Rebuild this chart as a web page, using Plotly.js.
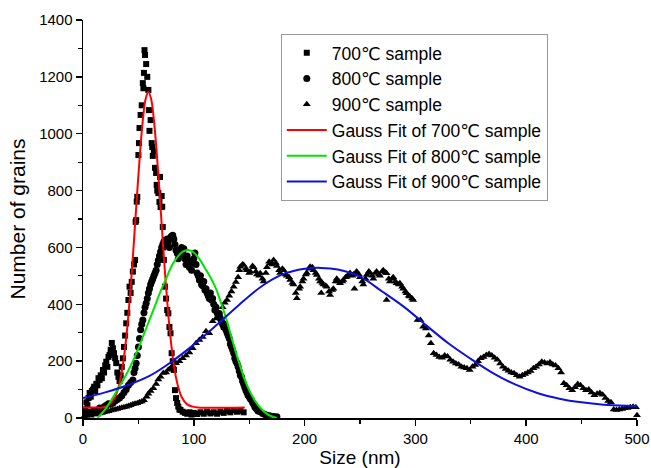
<!DOCTYPE html>
<html>
<head>
<meta charset="utf-8">
<script src="https://cdn.plot.ly/plotly-3.0.1.min.js"></script>
<style>html,body{margin:0;padding:0;background:#fff}#chart{width:651px;height:468px}</style>
</head>
<body>
<div id="chart"></div>
<script>
// 700 C sample (squares)
const x700 = [1,2,3,4,5,6,7,8,9,10,11,12,13,14,15,16,17,18,19,20,21,22,23,24,25,26,27,28,29,30,31,32,33,34,35,36,37,38,39,40,41,42,43,44,45,46,47,47.5,48,48.5,49,50,50.5,51,52,53,54,54.5,55,55.5,56,57,58,59,59.5,60,61,62,62.5,63,64,65,66,66.5,67,68,69,69.5,70,71,71.5,72,72.5,73,74,75,76,77,78,79,80,81,82,83,84,85,86,87,88,90,92,94,96,98,100,103,106,109,112,115,118,121,124,127,130,133,136,139,142,145];
const y700 = [15,30,55,45,70,88,75,95,100,110,95,120,115,140,134,150,140,169,160,185,198,180,215,222,240,264,245,228,210,193,160,145,130,150,180,210,250,290,333,370,415,462,440,479,515,540,556,690,696,761,778,925,967,1020,1066,1100,1178,1160,1214,1294,1277,1245,1200,1154,1083,1010,1048,967,953,922,940,880,862,820,800,791,760,848,742,781,743,672,600,556,462,420,380,368,320,298,228,200,169,98,70,53,40,30,28,22,18,15,20,12,18,14,20,15,22,16,20,15,22,18,25,20,28,22,25,20];

// 800 C sample (circles)
const x800 = [1,3,5,7,9,11,13,15,17,19,21,23,25,27,29,31,33,35,37,39,41,43,45,46,47,48,49,50,51,52,53,54,55,56,57,58,59,60,61,62,63,64,65,66,67,68,69,70,71,72,73,74,75,76,77,78,79,80,81,82,83,84,85,86,87,88,89,90,91,92,93,94,95,96,97,98,99,100,101,102,103,104,105,106,107,108,109,110,111,112,113,114,115,116,117,118,119,120,121,122,123,124,125,126,127,128,129,130,131,132,133,134,135,136,137,138,139,140,141,142,143,144,145,146,147,148,149,150,151,152,153,154,155,156,157,158,160,162,164,166,168,170,172,175];
const y800 = [10,15,20,18,25,22,28,35,30,40,45,50,48,53,60,65,70,78,90,100,115,125,134,160,175,193,220,250,280,310,330,345,370,390,404,420,440,455,470,480,490,500,510,520,540,555,570,585,600,610,620,625,615,630,620,600,635,640,643,630,610,590,580,560,575,590,600,580,595,560,540,570,555,530,545,520,545,560,580,540,510,500,485,500,470,465,480,450,455,440,430,420,440,415,420,400,380,390,370,360,368,350,340,330,320,330,310,300,290,280,260,251,240,228,210,200,193,180,165,150,145,130,120,108,98,90,80,75,68,63,55,48,40,35,30,25,22,16,12,10,8,6,5,4];

// 900 C sample (triangles)
const x900 = [1,3,5,7,9,11,13,15,17,19,21,23,25,27,29,31,33,35,37,39,41,43,45,47,49,51,53,55,57.5,59,61,63.5,66,68,70,72.5,75,77,79,81,84,87,90,93,96,99,102,105,108,111,114,117,120,123,126,128,
130,132,134,136,138,140,141,142,144,145,147,148,150,151,153,154,156,157,159,160,162,163,165,166,168,169,171,172,174,175,177,178,180,181,183,184,186,187,189,190,192,193,195,196,198,199,201,202,204,205,207,208,210,211,213,214,215,216,217,219,220,222,223,225,226,228,229,231,232,234,235,237,238,240,241,243,244,245,246,247,249,250,252,253,255,256,258,259,261,262,264,265,267,268,270,271,273,274,274,276,277,279,280,282,283,285,286,288,289,291,292,294,295,297,298,
302,304.5,307,309.5,312,314,316.5,319,321.5,324,326.5,329,331.5,334,336.5,339,341.5,344,346.5,349,351.5,354,356.5,359,361.5,364,366.5,369,371.5,374,376.5,379,381.5,384,386.5,389,391.5,394,396.5,399,401.5,404,406.5,409,411.5,414,416.5,419,421.5,424,426.5,429,431.5,434,436.5,439,441.5,444,446.5,449,451.5,454,456.5,459,461.5,464,466.5,469,471.5,474,476.5,479,481.5,484,486.5,489,491.5,494,496.5,499,500];
const y900 = [5,8,10,8,12,14,12,16,18,20,22,24,26,28,30,32,34,36,38,40,42,45,48,50,52,55,58,62,75,85,95,105,120,135,145,158,160,170,175,185,193,200,210,220,230,245,263,274,285,305,298,340,350,365,390,405,
415,430,445,462,478,495,520,532,540,538,525,520,510,515,535,530,515,505,500,509,490,480,510,530,550,544,540,556,545,535,520,510,525,520,505,500,495,485,475,470,440,421,455,462,480,490,505,510,525,532,530,520,510,503,490,480,440,475,470,465,462,445,433,450,455,480,490,480,474,480,485,495,497,505,510,500,505,455,510,515,505,495,480,470,490,503,515,510,500,490,510,515,505,500,515,520,512,509,415,490,480,490,495,480,474,470,474,462,455,445,439,430,427,420,415,
345,345,321,315,290,263,228,222,215,212,220,216,205,198,192,188,180,178,175,169,180,186,200,210,215,222,225,220,212,205,192,180,172,166,160,157,150,145,150,155,160,165,175,180,188,198,195,192,196,188,185,175,160,122,115,105,98,108,120,115,105,98,100,90,80,85,88,82,70,60,55,30,28,30,32,34,35,38,40,38,10];

// Gauss fit curves
const xFit700 = [0,10,19,24,29,31.5,34,36.5,39,41.5,44,46.5,49,51.5,54,56.5,59,61.5,64,66.5,69,71.5,74,76.5,79,81.5,84,86.5,89,94,99,104,146];
const yFit700 = [37,37,37.5,48,74,101,141,201,282,386,511,652,798,935,1048,1122,1148,1122,1048,935,798,652,511,386,282,201,141,101,74,48,40,37,37];
const xFit800 = [13,20,25,30,35,40,45,50,55,60,65,70,75,80,85,90,95,100,105,110,115,120,125,130,135,140,145,150,155,160,165,170,175];
const yFit800 = [0,30,60,92,125,160,200,245,295,345,395,445,490,535,565,585,591,582,560,528,495,455,400,340,270,205,145,98,62,36,17,6,0];
const xFit900 = [0,20,40,60,80,100,120,140,160,180,200,215,230,250,270,290,310,330,350,370,390,410,430,450,470,490,500];
const yFit900 = [70,90,115,148,198,258,325,395,460,505,525,528,522,497,445,390,325,262,208,158,118,88,68,55,47,43,42];

const names = ['700℃ sample','800℃ sample','900℃ sample',
  'Gauss Fit of 700℃ sample','Gauss Fit of 800℃ sample','Gauss Fit of 900℃ sample'];

const traces = [
  {x:x700,y:y700,mode:'markers',type:'scatter',name:names[0],marker:{symbol:'square',size:6,color:'#000'}},
  {x:x800,y:y800,mode:'markers',type:'scatter',name:names[1],marker:{symbol:'circle',size:7,color:'#000'}},
  {x:x900,y:y900,mode:'markers',type:'scatter',name:names[2],marker:{symbol:'triangle-up',size:7,color:'#000'},cliponaxis:false},
  {x:xFit700,y:yFit700,mode:'lines',type:'scatter',name:names[3],line:{color:'#ff0000',width:2,shape:'spline'}},
  {x:xFit800,y:yFit800,mode:'lines',type:'scatter',name:names[4],line:{color:'#00e400',width:2,shape:'spline'}},
  {x:xFit900,y:yFit900,mode:'lines',type:'scatter',name:names[5],line:{color:'#1010dd',width:2,shape:'spline'}}
];

const font = 'Liberation Sans, Arial, DejaVu Sans, sans-serif';
const layout = {
  width:651,height:468,
  margin:{l:83,r:14,t:20,b:50},
  paper_bgcolor:'#fff',plot_bgcolor:'#fff',
  font:{family:font,color:'#000',size:15},
  showlegend:true,
  legend:{x:0.357,y:0.965,xanchor:'left',yanchor:'top',bgcolor:'#fff',bordercolor:'#999',borderwidth:1,
    font:{family:font,size:17.5,color:'#000'},tracegroupgap:0,itemwidth:40,entrywidth:290,entrywidthmode:'pixels'},
  xaxis:{range:[0,500],dtick:100,tick0:0,showgrid:false,zeroline:false,showline:true,linecolor:'#000',linewidth:1.5,
    ticks:'outside',ticklen:6,tickwidth:1.5,tickcolor:'#000',tickfont:{size:15},
    minor:{dtick:50,ticks:'outside',ticklen:4,tickwidth:1.2,tickcolor:'#000',showgrid:false},
    title:{text:'Size (nm)',font:{size:19},standoff:5}},
  yaxis:{range:[0,1400],dtick:200,tick0:0,showgrid:false,zeroline:false,showline:true,linecolor:'#000',linewidth:1.5,
    ticks:'outside',ticklen:6,tickwidth:1.5,tickcolor:'#000',tickfont:{size:15},
    minor:{dtick:100,ticks:'outside',ticklen:4,tickwidth:1.2,tickcolor:'#000',showgrid:false},
    title:{text:'Number of grains',font:{size:21},standoff:8}}
};
Plotly.newPlot('chart',traces,layout,{displayModeBar:false,staticPlot:true});
</script>
</body>
</html>
